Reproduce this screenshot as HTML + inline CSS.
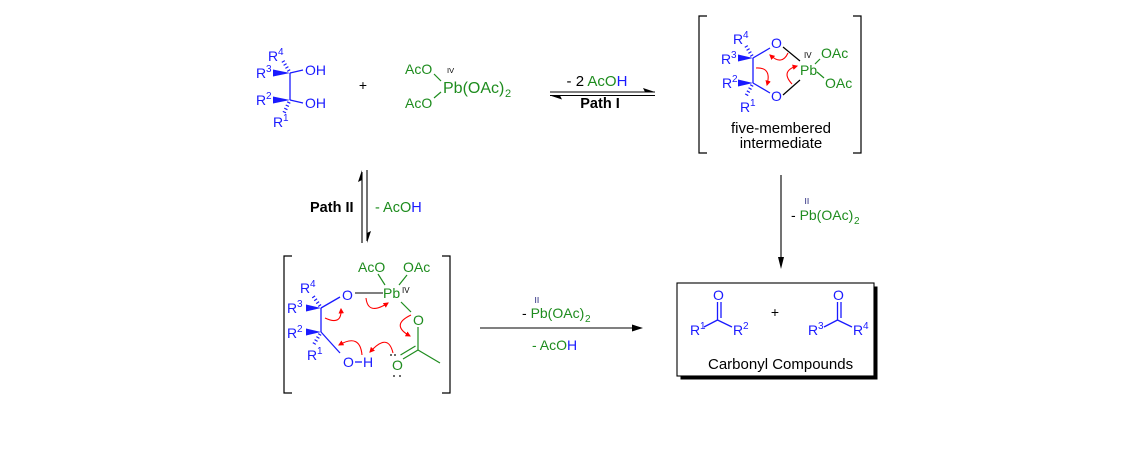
<!DOCTYPE html>
<html><head><meta charset="utf-8"><style>
html,body{margin:0;padding:0;background:#fff;}
svg{display:block;}
text{font-family:"Liberation Sans",Arial,sans-serif;}
</style></head><body>
<svg width="1128" height="467" viewBox="0 0 1128 467" xmlns="http://www.w3.org/2000/svg">
<defs>
<marker id="ra" viewBox="0 0 10 10" refX="8" refY="5" markerWidth="5.5" markerHeight="5.5" orient="auto" markerUnits="userSpaceOnUse">
<path d="M0,0 L10,5 L0,10 z" fill="#ff0000"/>
</marker>
</defs>
<rect width="1128" height="467" fill="#fff"/>

<!-- ===== Top-left diol ===== -->
<g stroke="#1a1aff" stroke-width="1.3" fill="none">
<line x1="290" y1="73" x2="290" y2="100"/>
<line x1="290" y1="73" x2="303" y2="70"/>
<line x1="290" y1="100" x2="303" y2="103"/>
<line x1="289" y1="71" x2="283" y2="61" stroke-width="3.5" stroke-dasharray="1.2 2.3"/>
<line x1="289" y1="102" x2="284" y2="113" stroke-width="3.5" stroke-dasharray="1.2 2.3"/>
</g>
<g fill="#1a1aff">
<polygon points="273,69.5 273,76.5 290,73"/>
<polygon points="273,96.5 273,103.5 290,100"/>
<g font-size="14">
<text x="268" y="61">R</text><text x="278" y="55" font-size="10">4</text>
<text x="256" y="78">R</text><text x="266" y="72" font-size="10">3</text>
<text x="305" y="75">OH</text>
<text x="256" y="105">R</text><text x="266" y="99" font-size="10">2</text>
<text x="305" y="108">OH</text>
<text x="273" y="127">R</text><text x="283" y="121" font-size="10">1</text>
</g>
</g>

<text x="363" y="90" text-anchor="middle" font-size="14">+</text>

<!-- Pb(OAc)4 -->
<g stroke="#1e8c1e" stroke-width="1.2">
<line x1="434" y1="74" x2="441" y2="81"/>
<line x1="434" y1="98" x2="441" y2="92"/>
</g>
<g fill="#1e8c1e">
<text x="405" y="74" font-size="14">AcO</text>
<text x="443" y="93" font-size="16">Pb(OAc)</text>
<text x="505" y="97" font-size="11">2</text>
<text x="405" y="108" font-size="14">AcO</text>
</g>
<text x="447" y="73" font-size="7.5" fill="#000">IV</text>

<!-- Path I equilibrium -->
<g stroke="#000" stroke-width="1.1">
<line x1="550" y1="92" x2="655" y2="92"/>
<line x1="550" y1="95.5" x2="655" y2="95.5"/>
</g>
<polygon points="655,92 643,88 645,92" fill="#000"/>
<polygon points="550,95.5 562,99.5 560,95.5" fill="#000"/>
<text x="597" y="86" text-anchor="middle" font-size="15"><tspan fill="#000">- 2 </tspan><tspan fill="#1e8c1e">AcO</tspan><tspan fill="#1a1aff">H</tspan></text>
<text x="600" y="108" text-anchor="middle" font-size="14.5" font-weight="bold">Path I</text>

<!-- ===== Five-membered intermediate ===== -->
<g stroke="#000" stroke-width="1.2" fill="none">
<path d="M707,16 H699 V153 H707"/>
<path d="M853,16 H861 V153 H853"/>
<line x1="783" y1="47" x2="800" y2="61"/>
<line x1="783" y1="95" x2="800" y2="80"/>
</g>
<g stroke="#1a1aff" stroke-width="1.3" fill="none">
<line x1="753" y1="58" x2="753" y2="83"/>
<line x1="753" y1="58" x2="770" y2="48"/>
<line x1="753" y1="83" x2="770" y2="93"/>
<line x1="752" y1="56" x2="746" y2="46" stroke-width="3.5" stroke-dasharray="1.2 2.3"/>
<line x1="752" y1="85" x2="746" y2="96" stroke-width="3.5" stroke-dasharray="1.2 2.3"/>
</g>
<g fill="#1a1aff" font-size="14">
<polygon points="738,54.5 738,61.5 753,58"/>
<polygon points="738,79.5 738,86.5 753,83"/>
<text x="733" y="44">R</text><text x="743" y="38" font-size="10">4</text>
<text x="721" y="64">R</text><text x="731" y="58" font-size="10">3</text>
<text x="722" y="88">R</text><text x="732" y="82" font-size="10">2</text>
<text x="740" y="112">R</text><text x="750" y="106" font-size="10">1</text>
<text x="771" y="48">O</text>
<text x="771" y="101">O</text>
</g>
<g stroke="#1e8c1e" stroke-width="1.2">
<line x1="815" y1="64" x2="820" y2="59"/>
<line x1="817" y1="72" x2="824" y2="78"/>
</g>
<g fill="#1e8c1e" font-size="14">
<text x="800" y="75">Pb</text>
<text x="821" y="58">OAc</text>
<text x="825" y="88">OAc</text>
</g>
<text x="804" y="58" font-size="8" fill="#000">IV</text>
<g stroke="#ff0000" stroke-width="1.1" fill="none" marker-end="url(#ra)">
<path d="M788,53 Q782,66 770,55"/>
<path d="M756,68 Q772,67 767,85"/>
<path d="M792,84 Q780,71 797,66"/>
</g>
<text x="781" y="133" text-anchor="middle" font-size="15">five-membered</text>
<text x="781" y="148" text-anchor="middle" font-size="15">intermediate</text>

<!-- vertical arrow right -->
<line x1="781" y1="175" x2="781" y2="260" stroke="#000" stroke-width="1.1"/>
<polygon points="778,257 784,257 781,269" fill="#000"/>
<text x="791" y="220" font-size="14"><tspan fill="#000">- </tspan><tspan fill="#1e8c1e">Pb(OAc)</tspan></text>
<text x="854" y="224" font-size="10" fill="#1e8c1e">2</text>
<text x="804.5" y="204" font-size="8.5" fill="#20207a">II</text>

<!-- ===== Carbonyl box ===== -->
<rect x="680.5" y="286.5" width="197" height="93" fill="#000"/>
<rect x="677" y="283" width="197" height="93" fill="#fff" stroke="#000" stroke-width="1.1"/>
<g stroke="#1a1aff" stroke-width="1.3" fill="none">
<line x1="717.5" y1="302" x2="717.5" y2="320"/>
<line x1="721" y1="302" x2="721" y2="318"/>
<line x1="717.5" y1="320" x2="704" y2="327"/>
<line x1="717.5" y1="320" x2="732" y2="327"/>
<line x1="837.5" y1="302" x2="837.5" y2="320"/>
<line x1="841" y1="302" x2="841" y2="318"/>
<line x1="837.5" y1="320" x2="824" y2="327"/>
<line x1="837.5" y1="320" x2="852" y2="327"/>
</g>
<g fill="#1a1aff" font-size="14">
<text x="713" y="300">O</text>
<text x="690" y="335">R</text><text x="700" y="329" font-size="10">1</text>
<text x="733" y="335">R</text><text x="743" y="329" font-size="10">2</text>
<text x="833" y="300">O</text>
<text x="808" y="335">R</text><text x="818" y="329" font-size="10">3</text>
<text x="853" y="335">R</text><text x="863" y="329" font-size="10">4</text>
</g>
<text x="775" y="317" text-anchor="middle" font-size="14">+</text>
<text x="708" y="369" font-size="15">Carbonyl Compounds</text>

<!-- bottom horizontal arrow -->
<line x1="480" y1="328" x2="636" y2="328" stroke="#000" stroke-width="1.1"/>
<polygon points="632,324.5 643,328 632,331.5" fill="#000"/>
<text x="522" y="318" font-size="14"><tspan fill="#000">- </tspan><tspan fill="#1e8c1e">Pb(OAc)</tspan></text>
<text x="585" y="322" font-size="10" fill="#1e8c1e">2</text>
<text x="534.5" y="303" font-size="8.5" fill="#20207a">II</text>
<text x="532" y="350" font-size="14"><tspan fill="#1e8c1e">- AcO</tspan><tspan fill="#1a1aff">H</tspan></text>

<!-- Path II equilibrium -->
<g stroke="#000" stroke-width="1.1">
<line x1="362" y1="172" x2="362" y2="243"/>
<line x1="367" y1="170" x2="367" y2="241"/>
</g>
<polygon points="362,170 358,182 362,180" fill="#000"/>
<polygon points="367,243 371,231 367,233" fill="#000"/>
<text x="310" y="212" font-size="14.5" font-weight="bold">Path II</text>
<text x="375" y="212" font-size="14.5"><tspan fill="#1e8c1e">- AcO</tspan><tspan fill="#1a1aff">H</tspan></text>

<!-- ===== Bottom-left intermediate ===== -->
<g stroke="#000" stroke-width="1.2" fill="none">
<path d="M292,256 H284 V393 H292"/>
<path d="M442,256 H450 V393 H442"/>
</g>
<line x1="355" y1="293" x2="383" y2="293" stroke="#333" stroke-width="1.3"/>
<g stroke="#1a1aff" stroke-width="1.3" fill="none">
<line x1="321" y1="308" x2="321" y2="332"/>
<line x1="321" y1="308" x2="340" y2="297"/>
<line x1="321" y1="332" x2="340" y2="353"/>
<line x1="355" y1="362" x2="362" y2="362"/>
<line x1="320" y1="306" x2="313" y2="296" stroke-width="3.5" stroke-dasharray="1.2 2.3"/>
<line x1="320" y1="334" x2="314" y2="344" stroke-width="3.5" stroke-dasharray="1.2 2.3"/>
</g>
<g fill="#1a1aff" font-size="14">
<polygon points="306,304.5 306,311.5 321,308"/>
<polygon points="306,328.5 306,335.5 321,332"/>
<text x="300" y="293">R</text><text x="310" y="287" font-size="10">4</text>
<text x="287" y="313">R</text><text x="297" y="307" font-size="10">3</text>
<text x="287" y="338">R</text><text x="297" y="332" font-size="10">2</text>
<text x="307" y="360">R</text><text x="317" y="354" font-size="10">1</text>
<text x="342" y="300">O</text>
<text x="343" y="367">O</text>
<text x="363" y="367">H</text>
</g>
<g stroke="#1e8c1e" stroke-width="1.2" fill="none">
<line x1="378" y1="274" x2="385" y2="285"/>
<line x1="407" y1="275" x2="399" y2="285"/>
<line x1="401" y1="302" x2="411" y2="312"/>
<line x1="418" y1="327" x2="418" y2="350"/>
<line x1="418" y1="350" x2="440" y2="363"/>
<line x1="418" y1="350" x2="403" y2="359"/>
<line x1="415.5" y1="346" x2="400.5" y2="355"/>
</g>
<g fill="#1e8c1e" font-size="14">
<text x="358" y="272">AcO</text>
<text x="403" y="272">OAc</text>
<text x="383" y="298">Pb</text>
<text x="413" y="325">O</text>
<text x="392" y="370">O</text>
</g>
<text x="402" y="293" font-size="8" fill="#000">IV</text>
<g fill="#000">
<circle cx="391" cy="355" r="0.9"/>
<circle cx="395" cy="355" r="0.9"/>
<circle cx="394" cy="376" r="0.9"/>
<circle cx="400" cy="376" r="0.9"/>
</g>
<g stroke="#ff0000" stroke-width="1.1" fill="none" marker-end="url(#ra)">
<path d="M325,318 Q342,326 341,309"/>
<path d="M362,355 Q360,333 339,345"/>
<path d="M393,353 Q388,332 370,352"/>
<path d="M366,298 Q368,316 388,303"/>
<path d="M411,315 Q390,325 410,336"/>
</g>
</svg>
</body></html>
